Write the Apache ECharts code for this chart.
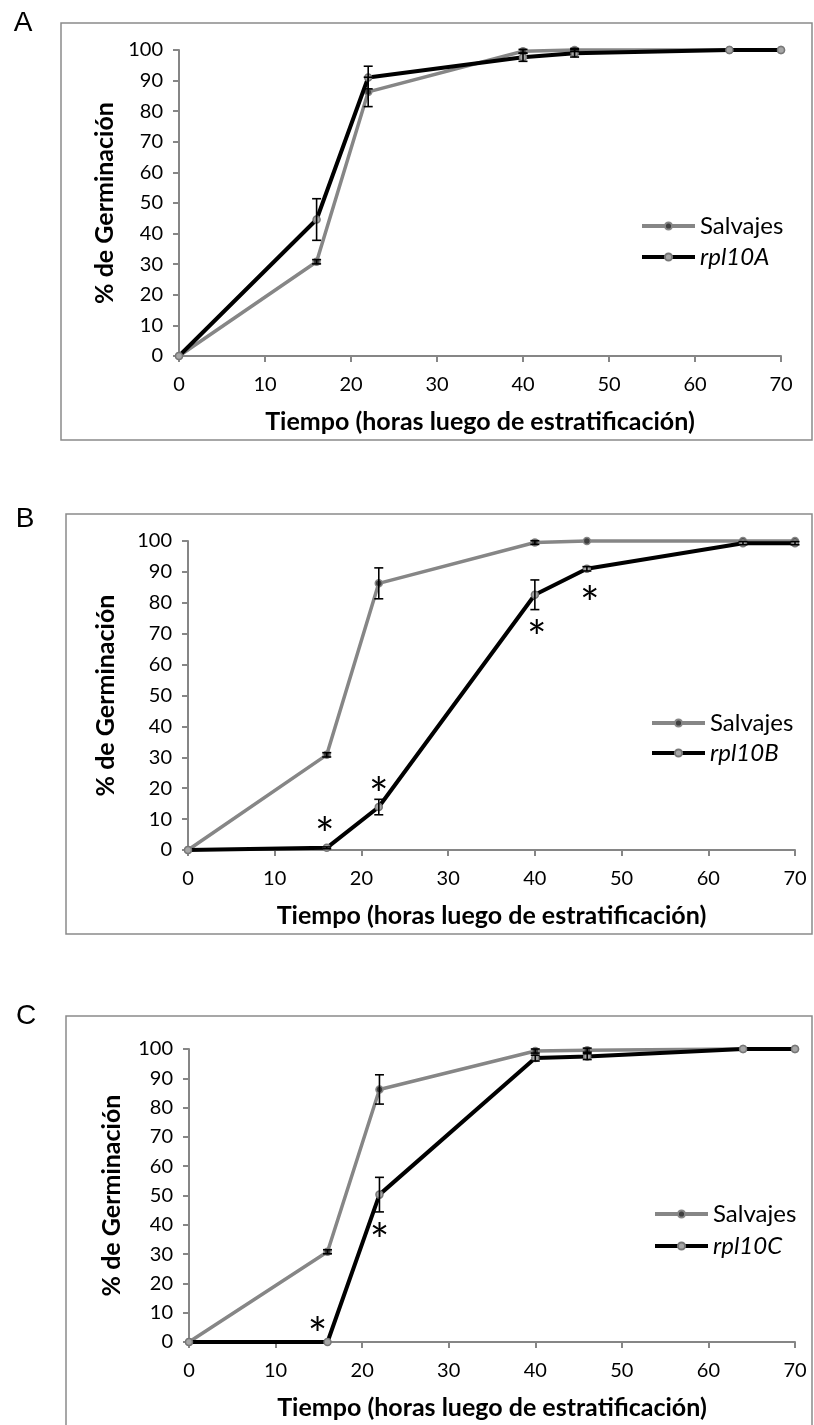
<!DOCTYPE html>
<html>
<head>
<meta charset="utf-8">
<script src="https://cdn.jsdelivr.net/npm/echarts@6/dist/echarts.min.js"></script>
<style>
  html, body { margin: 0; padding: 0; background: #fff; }
  #chart { width: 814px; height: 1425px; }
</style>
</head>
<body>
<div id="chart"></div>
<script>
// Sampling times (hours after stratification)
const hours = [0, 16, 22, 40, 46, 64, 70];

// Axis ticks
const xTicks = [0, 10, 20, 30, 40, 50, 60, 70];
const yTicks = [0, 10, 20, 30, 40, 50, 60, 70, 80, 90, 100];

// Panel A: wild type vs rpl10A (% germination, mean and error)
const wtA      = [0, 30.8, 86.3, 99.6, 100, 100, 100];
const wtAErr   = [0, 0.7, 4.8, 0.6, 0.5, 0, 0];
const mutA     = [0, 44.6, 91.0, 97.6, 98.9, 100, 100];
const mutAErr  = [0, 6.8, 3.7, 1.3, 1.2, 0, 0];
const sigA     = [];

// Panel B: wild type vs rpl10B
const wtB      = [0, 30.8, 86.3, 99.5, 100, 100, 100];
const wtBErr   = [0, 0.7, 5.0, 0.6, 0, 0, 0];
const mutB     = [0, 0.7, 13.9, 82.6, 91.0, 99.3, 99.3];
const mutBErr  = [0, 0.3, 2.5, 4.8, 0.7, 0.5, 0.5];
const sigB     = [16, 22, 40, 46];

// Panel C: wild type vs rpl10C
const wtC      = [0, 30.8, 86.2, 99.3, 99.6, 100, 100];
const wtCErr   = [0, 0.7, 5.0, 0.7, 0.7, 0, 0];
const mutC     = [0, 0, 50.3, 96.9, 97.4, 100, 100];
const mutCErr  = [0, 0, 5.9, 1.0, 1.0, 0, 0];
const sigC     = [16, 22];

const wtName = 'Salvajes';
const mutantNames = ['rpl10A', 'rpl10B', 'rpl10C'];
const panelLetters = ['A', 'B', 'C'];
const xTitle = 'Tiempo (horas luego de estratificación)';
const yTitle = '% de Germinación';

const panels = [
  { wt: wtA, wtErr: wtAErr, mut: mutA, mutErr: mutAErr, sig: sigA },
  { wt: wtB, wtErr: wtBErr, mut: mutB, mutErr: mutBErr, sig: sigB },
  { wt: wtC, wtErr: wtCErr, mut: mutC, mutErr: mutCErr, sig: sigC }
];

// Page layout of each panel (pixels)
const layout = [
  { grid: { left: 179, top: 50, width: 602, height: 306 }, yGap: 62,
    box: [61, 23, 812, 440], letter: [23, 23],
    legend: { left: 640, top: 214, itemGap: 7 }, star: {} },
  { grid: { left: 188, top: 541, width: 607, height: 309 }, yGap: 70,
    box: [66, 514, 812, 934], letter: [25, 519],
    legend: { left: 650, top: 711, itemGap: 6 },
    star: { 16: [-2, -25], 22: [0, -24], 40: [2, 32], 46: [3, 23] } },
  { grid: { left: 189, top: 1049, width: 606, height: 293 }, yGap: 65,
    box: [66, 1016, 812, 1445], letter: [26, 1016],
    legend: { left: 653, top: 1202, itemGap: 8 },
    star: { 16: [-10, -19], 22: [0, 35] } }
];

const FONT = 'Lato';
const AXIS_GREY = '#868686';
const WT_GREY = '#868686';
const STAR_SIZE = 46;

const grids = [], xAxes = [], yAxes = [], series = [], legends = [], graphics = [];

function errorData(vals, errs) {
  const out = [];
  hours.forEach((h, j) => {
    if (errs[j] > 0) out.push([h, vals[j] - errs[j], vals[j] + errs[j]]);
  });
  return out;
}

function renderErrorBar(params, api) {
  const x = api.value(0);
  const lo = api.coord([x, api.value(1)]);
  const hi = api.coord([x, api.value(2)]);
  const w = 4.5;
  const st = { stroke: '#000', lineWidth: 1.6 };
  return {
    type: 'group',
    children: [
      { type: 'line', shape: { x1: lo[0], y1: lo[1], x2: hi[0], y2: hi[1] }, style: st },
      { type: 'line', shape: { x1: lo[0] - w, y1: lo[1], x2: lo[0] + w, y2: lo[1] }, style: st },
      { type: 'line', shape: { x1: hi[0] - w, y1: hi[1], x2: hi[0] + w, y2: hi[1] }, style: st }
    ]
  };
}

panels.forEach((p, i) => {
  const L = layout[i];
  grids.push(Object.assign({}, L.grid));

  xAxes.push({
    gridIndex: i, type: 'value',
    min: xTicks[0], max: xTicks[xTicks.length - 1], interval: xTicks[1] - xTicks[0],
    axisLine: { show: true, onZero: false, lineStyle: { color: AXIS_GREY, width: 2 } },
    axisTick: { show: true, length: 6, lineStyle: { color: AXIS_GREY, width: 2 } },
    axisLabel: { fontFamily: FONT, fontSize: 20, color: '#000', margin: 19 },
    splitLine: { show: false },
    name: xTitle, nameLocation: 'middle', nameGap: 53,
    nameTextStyle: { fontFamily: FONT, fontWeight: 'bold', fontSize: 25, color: '#000' }
  });

  yAxes.push({
    gridIndex: i, type: 'value',
    min: yTicks[0], max: yTicks[yTicks.length - 1], interval: yTicks[1] - yTicks[0],
    axisLine: { show: true, lineStyle: { color: AXIS_GREY, width: 2 } },
    axisTick: { show: true, length: 6, lineStyle: { color: AXIS_GREY, width: 2 } },
    axisLabel: { fontFamily: FONT, fontSize: 20, color: '#000', margin: 16 },
    splitLine: { show: false },
    name: yTitle, nameLocation: 'middle', nameGap: L.yGap,
    nameTextStyle: { fontFamily: FONT, fontWeight: 'bold', fontSize: 25, color: '#000' }
  });

  series.push({
    name: wtName, type: 'line', xAxisIndex: i, yAxisIndex: i, clip: false, z: 2,
    data: hours.map((h, j) => [h, p.wt[j]]),
    symbol: 'circle', symbolSize: 7,
    lineStyle: { color: WT_GREY, width: 3.5 },
    itemStyle: { color: '#3f3f3f', borderColor: WT_GREY, borderWidth: 1.5 },
    emphasis: { disabled: true }
  });
  series.push({
    name: mutantNames[i], type: 'line', xAxisIndex: i, yAxisIndex: i, clip: false, z: 3,
    data: hours.map((h, j) => [h, p.mut[j]]),
    symbol: 'circle', symbolSize: 7,
    lineStyle: { color: '#000', width: 4 },
    itemStyle: { color: '#a6a6a6', borderColor: '#777', borderWidth: 1.5 },
    emphasis: { disabled: true }
  });
  [[p.wt, p.wtErr], [p.mut, p.mutErr]].forEach(([v, e]) => {
    series.push({
      type: 'custom', xAxisIndex: i, yAxisIndex: i, clip: false, z: 4,
      renderItem: renderErrorBar, data: errorData(v, e), silent: true
    });
  });

  if (p.sig.length) {
    series.push({
      type: 'custom', xAxisIndex: i, yAxisIndex: i, clip: false, z: 5, silent: true,
      data: p.sig.map(h => [h, p.mut[hours.indexOf(h)]]),
      renderItem: (params, api) => {
        const h = api.value(0);
        const pt = api.coord([h, api.value(1)]);
        const off = L.star[h] || [0, -24];
        return {
          type: 'text',
          style: {
            text: '*', x: pt[0] + off[0], y: pt[1] + off[1] + STAR_SIZE * 0.28,
            fontFamily: FONT, fontSize: STAR_SIZE, fill: '#000',
            align: 'center', verticalAlign: 'middle'
          }
        };
      }
    });
  }

  legends.push({
    orient: 'vertical', left: L.legend.left, top: L.legend.top,
    itemGap: L.legend.itemGap, itemWidth: 53, itemHeight: 9, padding: 0,
    selectedMode: false,
    lineStyle: { width: 4 },
    data: [wtName, mutantNames[i]],
    formatter: name => name === wtName ? name : '{it|' + name + '}',
    textStyle: {
      fontFamily: FONT, fontSize: 24, color: '#000', lineHeight: 24,
      rich: { it: { fontFamily: FONT, fontSize: 24, fontStyle: 'italic', color: '#000', lineHeight: 24 } }
    }
  });

  const b = L.box;
  graphics.push({
    type: 'rect', silent: true, z: -1,
    shape: { x: b[0], y: b[1], width: b[2] - b[0], height: b[3] - b[1] },
    style: { fill: 'none', stroke: '#8a8a8a', lineWidth: 1.5 }
  });
  graphics.push({
    type: 'text', silent: true,
    style: {
      text: panelLetters[i], x: L.letter[0], y: L.letter[1],
      fontFamily: 'Liberation Sans', fontSize: 28, fill: '#000',
      align: 'center', verticalAlign: 'middle'
    }
  });
});

const chart = echarts.init(document.getElementById('chart'), null, { renderer: 'canvas' });
chart.setOption({
  backgroundColor: '#fff',
  animation: false,
  grid: grids,
  xAxis: xAxes,
  yAxis: yAxes,
  legend: legends,
  series: series,
  graphic: graphics
});
</script>
</body>
</html>
